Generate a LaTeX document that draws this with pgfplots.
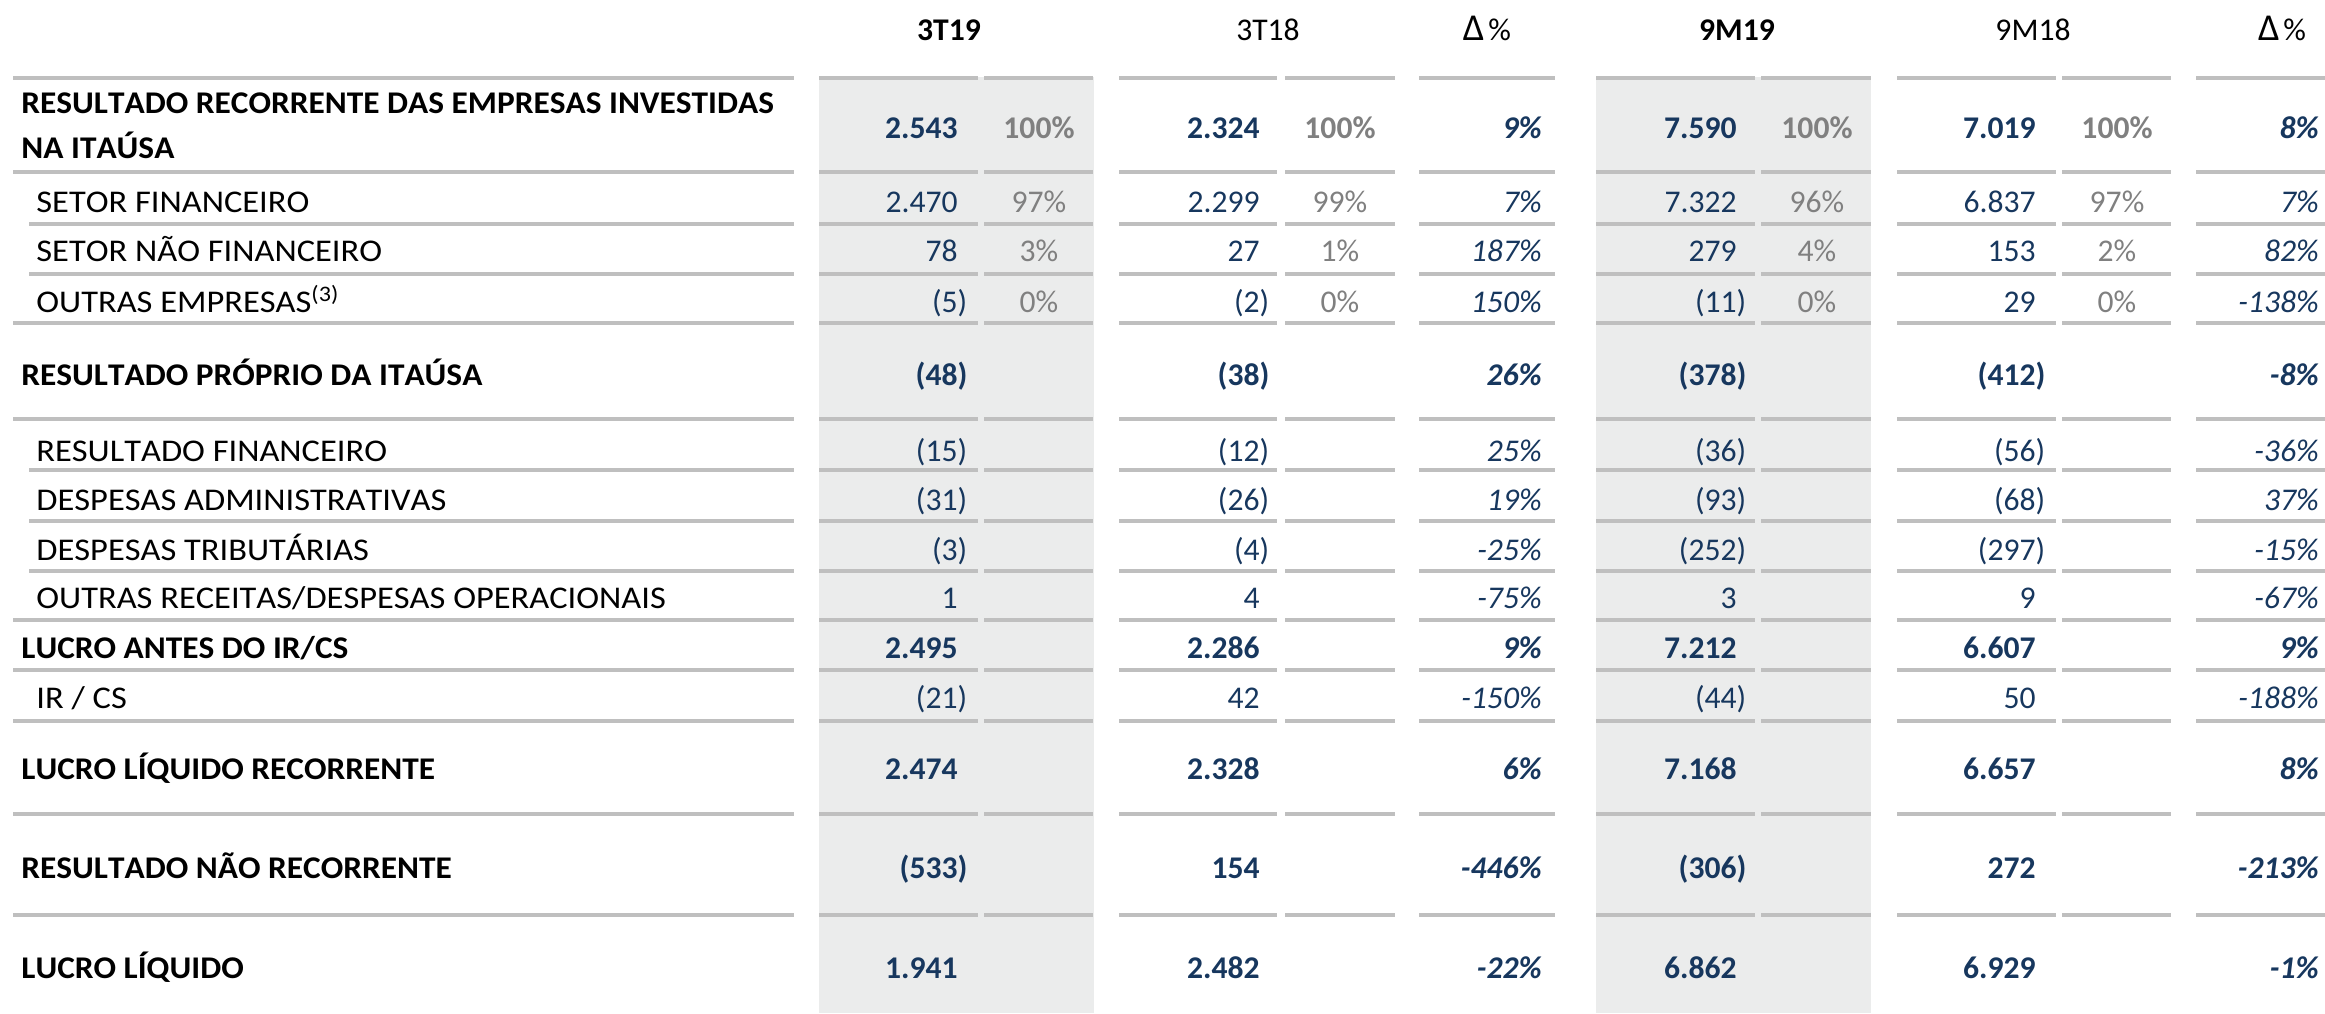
\documentclass[border=0pt]{standalone}
\usepackage{pgfplots}
\pgfplotsset{compat=1.18}
\usepackage{pgfplotstable}
\usepackage{fontspec}
\setmainfont{Carlito}[Kerning=Off]
% row labels are set a little wider than the figures
\newfontfamily\lblB{Carlito}[FakeStretch=1.055, Kerning=Off]
\newfontfamily\lblR{Carlito}[FakeStretch=1.09, Kerning=Off]

\definecolor{navy}{HTML}{17375E}
\definecolor{pctgray}{HTML}{808080}
\definecolor{rulegray}{HTML}{BFBFBF}
\definecolor{shade}{HTML}{EBECEC}

\newcommand\tf{\fontsize{15.8}{19}\selectfont}
\newcommand\dlt{{\fontsize{19}{19}\selectfont Δ}\hspace{2pt}\%}
% accounting style: (5) for negatives, closing paren hangs past the digits
\def\stripneg-#1\relax{#1}
\newcommand\pn[1]{\pgfmathprintnumber[fixed,precision=0,1000 sep={.},assume math mode=true]{#1}}
\newcommand\fmtv[1]{%
  \edef\vtmp{#1}%
  \pgfmathfloatparsenumber{\vtmp}%
  \pgfmathfloatifflags{\pgfmathresult}{-}{%
    \edef\vabs{\expandafter\stripneg\vtmp\relax}(\pn{\vabs}\rlap{)}}{%
    \pn{\vtmp}}}

% row centres in pixels from the top
\pgfplotstableread[col sep=comma]{
y,a,b,d1,c,e,d2
128,2543,2324,9,7590,7019,8
375,-48,-38,26,-378,-412,-8
648,2495,2286,9,7212,6607,9
769,2474,2328,6,7168,6657,8
868,-533,154,-446,-306,272,-213
968,1941,2482,-22,6862,6929,-1
}\boldrows

\pgfplotstableread[col sep=comma]{
y,a,b,d1,c,e,d2
202,2470,2299,7,7322,6837,7
251,78,27,187,279,153,82
302,-5,-2,150,-11,29,-138
451,-15,-12,25,-36,-56,-36
500,-31,-26,19,-93,-68,37
550,-3,-4,-25,-252,-297,-15
598,1,4,-75,3,9,-67
698,-21,42,-150,-44,50,-188
}\regrows

\pgfplotstableread[col sep=comma]{
y,a,b,c,e
128,100,100,100,100
}\pctbold

\pgfplotstableread[col sep=comma]{
y,a,b,c,e
202,97,99,96,97
251,3,1,4,2
302,0,0,0,0
}\pctreg

\pgfplotstableread[col sep=comma]{
y,t
103,RESULTADO RECORRENTE DAS EMPRESAS INVESTIDAS
148,NA ITAÚSA
375,RESULTADO PRÓPRIO DA ITAÚSA
648,LUCRO ANTES DO IR/CS
769,LUCRO LÍQUIDO RECORRENTE
868,RESULTADO NÃO RECORRENTE
968,LUCRO LÍQUIDO
}\lblbold

\pgfplotstableread[col sep=comma]{
y,t
202,SETOR FINANCEIRO
251,SETOR NÃO FINANCEIRO
302,OUTRAS EMPRESAS\textsuperscript{(3)}
451,RESULTADO FINANCEIRO
500,DESPESAS ADMINISTRATIVAS
550,DESPESAS TRIBUTÁRIAS
598,OUTRAS RECEITAS/DESPESAS OPERACIONAIS
698,IR / CS
}\lblreg

\pgfplotstableread[col sep=comma]{
x,t
949,3T19
1737,9M19
}\hdrbold

\pgfplotstableread[col sep=comma]{
x,t
1268,3T18
1487,\dlt
2033,9M18
2282,\dlt
}\hdrreg

% horizontal rule segments, one per column block (nan breaks the line)
\pgfplotstableread[col sep=comma]{
x,k
13,0
794,0
nan,0
819,0
978,0
nan,0
984,0
1093,0
nan,0
1119,0
1277,0
nan,0
1285,0
1395,0
nan,0
1419,0
1555,0
nan,0
1596,0
1755,0
nan,0
1761,0
1871,0
nan,0
1897,0
2056,0
nan,0
2062,0
2171,0
nan,0
2196,0
2325,0
}\segmain

\pgfplotstableread[col sep=comma]{
x,k
29,0
794,0
nan,0
819,0
978,0
nan,0
984,0
1093,0
nan,0
1119,0
1277,0
nan,0
1285,0
1395,0
nan,0
1419,0
1555,0
nan,0
1596,0
1755,0
nan,0
1761,0
1871,0
nan,0
1897,0
2056,0
nan,0
2062,0
2171,0
nan,0
2196,0
2325,0
}\segsub

\pgfplotsset{
  txt/.style={draw=none, mark=none, forget plot, point meta=explicit symbolic,
    nodes near coords={#1},
    every node near coord/.append style={inner sep=0pt, yshift=-5pt, font=\tf}},
  vb/.style={txt=\fmtv{\pgfplotspointmeta},
    every node near coord/.append style={anchor=base east, text=navy, font=\tf\bfseries}},
  vr/.style={txt=\fmtv{\pgfplotspointmeta},
    every node near coord/.append style={anchor=base east, text=navy, font=\tf}},
  db/.style={txt=\pgfplotspointmeta\%,
    every node near coord/.append style={anchor=base east, text=navy, font=\tf\bfseries\itshape}},
  dr/.style={txt=\pgfplotspointmeta\%,
    every node near coord/.append style={anchor=base east, text=navy, font=\tf\itshape}},
  pb/.style={txt=\pgfplotspointmeta\%,
    every node near coord/.append style={anchor=base, text=pctgray, font=\tf\bfseries}},
  pr/.style={txt=\pgfplotspointmeta\%,
    every node near coord/.append style={anchor=base, text=pctgray, font=\tf}},
  rule/.style={draw=rulegray, line width=2.25pt, mark=none, forget plot,
    unbounded coords=jump, line cap=butt},
}

\begin{document}
\begin{tikzpicture}
\begin{axis}[
    name=ax,
    hide axis,
    scale only axis,
    width=1162.5pt,
    height=506.5pt,
    xmin=0, xmax=2325,
    ymin=0, ymax=1013,
    y dir=reverse,
    clip=false,
]
% shaded current-period columns
\addplot[fill=shade, draw=none, forget plot] coordinates {(819,77) (1094,77) (1094,1013) (819,1013)};
\addplot[fill=shade, draw=none, forget plot] coordinates {(1596,77) (1871,77) (1871,1013) (1596,1013)};

% rules
\pgfplotsinvokeforeach{78,172,323,419,620,670,721,814,915}{
  \addplot[rule] table[x=x, y expr=#1] {\segmain};
}
\pgfplotsinvokeforeach{224,274,470,521,571}{
  \addplot[rule] table[x=x, y expr=#1] {\segsub};
}

% headers
\addplot[txt=\pgfplotspointmeta, every node near coord/.append style={anchor=base, font=\tf\bfseries}]
  table[x=x, y expr=30, meta=t] {\hdrbold};
\addplot[txt=\pgfplotspointmeta, every node near coord/.append style={anchor=base, font=\tf}]
  table[x=x, y expr=30, meta=t] {\hdrreg};

% row labels
\addplot[txt=\pgfplotspointmeta, every node near coord/.append style={anchor=base west, font=\lblB\tf\bfseries}]
  table[x expr=21, y=y, meta=t] {\lblbold};
\addplot[txt=\pgfplotspointmeta, every node near coord/.append style={anchor=base west, font=\lblR\tf}]
  table[x expr=36, y=y, meta=t] {\lblreg};

% values, bold rows
\addplot[vb] table[x expr=958,  y=y, meta=a]  {\boldrows};
\addplot[vb] table[x expr=1260, y=y, meta=b]  {\boldrows};
\addplot[db] table[x expr=1542, y=y, meta=d1] {\boldrows};
\addplot[vb] table[x expr=1737, y=y, meta=c]  {\boldrows};
\addplot[vb] table[x expr=2036, y=y, meta=e]  {\boldrows};
\addplot[db] table[x expr=2319, y=y, meta=d2] {\boldrows};

% values, regular rows
\addplot[vr] table[x expr=958,  y=y, meta=a]  {\regrows};
\addplot[vr] table[x expr=1260, y=y, meta=b]  {\regrows};
\addplot[dr] table[x expr=1542, y=y, meta=d1] {\regrows};
\addplot[vr] table[x expr=1737, y=y, meta=c]  {\regrows};
\addplot[vr] table[x expr=2036, y=y, meta=e]  {\regrows};
\addplot[dr] table[x expr=2319, y=y, meta=d2] {\regrows};

% shares
\addplot[pb] table[x expr=1039, y=y, meta=a] {\pctbold};
\addplot[pb] table[x expr=1340, y=y, meta=b] {\pctbold};
\addplot[pb] table[x expr=1817, y=y, meta=c] {\pctbold};
\addplot[pb] table[x expr=2117, y=y, meta=e] {\pctbold};
\addplot[pr] table[x expr=1039, y=y, meta=a] {\pctreg};
\addplot[pr] table[x expr=1340, y=y, meta=b] {\pctreg};
\addplot[pr] table[x expr=1817, y=y, meta=c] {\pctreg};
\addplot[pr] table[x expr=2117, y=y, meta=e] {\pctreg};
\end{axis}
\pgfresetboundingbox
\path (ax.south west) rectangle (ax.north east);
\end{tikzpicture}
\end{document}
